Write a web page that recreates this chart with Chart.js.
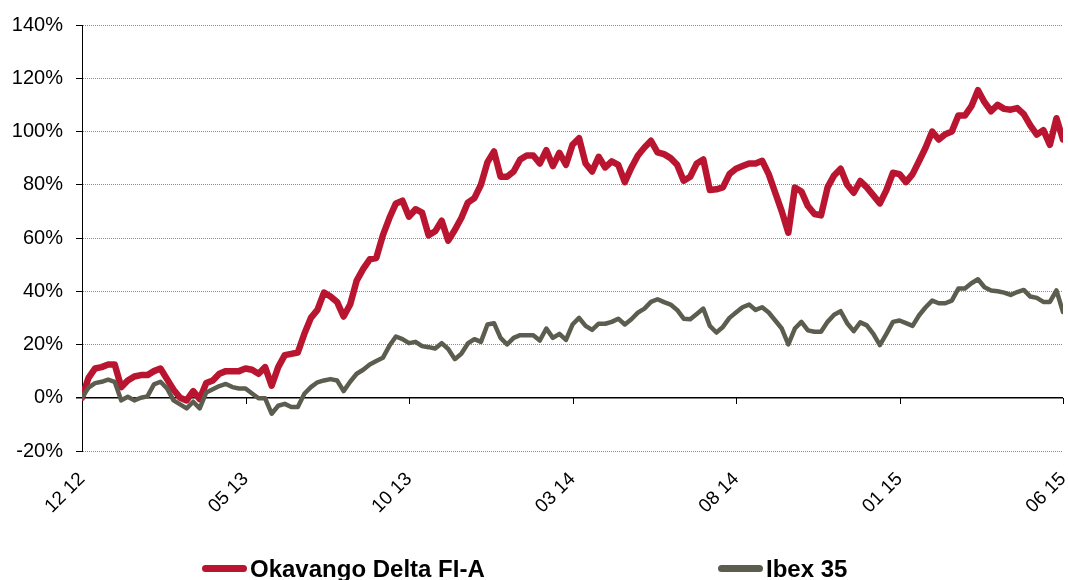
<!DOCTYPE html>
<html lang="es">
<head>
<meta charset="utf-8">
<title>Okavango Delta FI-A vs Ibex 35</title>
<script src="https://cdn.jsdelivr.net/npm/chart.js@4.4.1/dist/chart.umd.min.js"></script>
<style>
  html, body { margin: 0; padding: 0; background: #fff; overflow: hidden; }
  #wrap { position: relative; width: 1068px; height: 580px; }
  #legend .item {
    position: absolute; top: 557px; padding-left: 48px;
    font: bold 24px "Liberation Sans", Arial, sans-serif; line-height: 24px;
    color: #000; white-space: nowrap;
  }
  #legend .swatch { position: absolute; left: 0; top: 8px; width: 45px; height: 7px; border-radius: 3.5px; }
</style>
</head>
<body>
<div id="wrap">
  <canvas id="perfChart"></canvas>
  <div id="legend"></div>
</div>
<script>
// Un point tous les 0,2 mois, de 12/2012 à 06/2015
const step = 0.2;
const tickLabels = ['12 12', '05 13', '10 13', '03 14', '08 14', '01 15', '06 15'];
const seriesNames = ['Okavango Delta FI-A', 'Ibex 35'];
const seriesColors = ['#BA1530', '#5C5D4F'];

// Rentabilité cumulée (%)
const okavango = [
    0, 7.5, 11, 11.5, 12.5, 12.5, 4, 6.5, 8, 8.5,
    8.5, 10, 11, 7, 3, 0, -1, 2.5, -0.5, 5.5,
    6.5, 9, 10, 10, 10, 11, 10.5, 9, 11.5, 4.5,
    11.5, 16, 16.5, 17, 24, 30, 33, 39.5, 38, 36,
    30.5, 35, 44, 48.4, 52, 52.5, 61, 67.5, 73, 74,
    68, 70.8, 69.5, 61, 62.5, 66.5, 59, 63, 67.5, 73.3,
    75, 80, 88.5, 92.5, 83, 83, 85, 89.5, 91, 91,
    88, 93, 87, 92, 87.5, 95, 97.5, 88, 85, 90.5,
    86.5, 88.8, 87.5, 81, 86.4, 91, 94, 96.5, 92.2, 91.5,
    90, 87.5, 81.5, 83, 88, 89.5, 78, 78.3, 79, 84,
    86, 87, 88, 88, 89, 84, 77, 70, 62, 79,
    77.5, 72, 69, 68.5, 79, 83.5, 86, 80, 77, 81.4,
    79, 76, 73, 78, 84.5, 84, 81, 84, 88.9, 94,
    100, 97, 99, 100, 106, 106, 109.5, 115.5, 111, 107.6,
    110, 108.5, 108.2, 108.8, 106.5, 102.3, 98.8, 100.5, 95, 105,
    97
];
const ibex = [
    0, 3.8, 5.5, 6, 6.8, 6, -1, 0.4, -1, 0,
    0.5, 5, 6, 3.5, -1, -2.5, -4, -1.5, -4, 2,
    3.2, 4.4, 5.2, 4, 3.5, 3.5, 1.6, -0.2, -0.2, -6,
    -3, -2.3, -3.5, -3.5, 1.5, 4, 5.8, 6.5, 7, 6.5,
    2.5, 6, 9, 10.5, 12.5, 13.8, 15, 19.5, 23, 22,
    20.5, 21, 19.4, 19, 18.5, 20.5, 18.3, 14.5, 16.5, 20.4,
    22, 21, 27.5, 28, 22.5, 20, 22.5, 23.5, 23.5, 23.5,
    21.5, 26, 22.5, 24, 21.7, 27.5, 30, 27, 25.5, 27.8,
    27.8, 28.5, 29.7, 27.5, 29.5, 32, 33.5, 36, 37, 35.9,
    35, 33, 29.7, 29.5, 31.5, 33.5, 27, 24.5, 26.6, 30,
    32, 34, 35, 33, 34, 32, 29, 26, 20, 26,
    28.5, 25.3, 24.8, 24.8, 28.5, 31.2, 32.5, 28, 25, 28.3,
    27.2, 24, 19.8, 24, 28.5, 29, 28, 27, 31, 34,
    36.5, 35.5, 35.5, 36.5, 41, 41, 43, 44.5, 41.5, 40.3,
    40, 39.5, 38.6, 39.7, 40.5, 38, 37.5, 36, 36, 40.3,
    32.2
];

const font = "'Liberation Sans', Arial, sans-serif";
const toPoints = (values) => values.map((v, i) => ({ x: i * step, y: v }));

// Petites graduations de l'axe X posées sur la ligne du 0 %
const zeroTicks = {
    id: 'zeroTicks',
    beforeDatasetsDraw(chart) {
        const { ctx, scales: { x, y } } = chart;
        const y0 = Math.round(y.getPixelForValue(0));
        ctx.save();
        ctx.strokeStyle = '#000';
        ctx.lineWidth = 1;
        x.ticks.forEach((t) => {
            const px = Math.round(x.getPixelForValue(t.value)) + 0.5;
            ctx.beginPath();
            ctx.moveTo(px, y0);
            ctx.lineTo(px, y0 + 6);
            ctx.stroke();
        });
        ctx.restore();
    }
};

const ctx = document.getElementById('perfChart').getContext('2d');
new Chart(ctx, {
    type: 'line',
    data: {
        datasets: [{
            label: seriesNames[0],
            data: toPoints(okavango),
            borderColor: seriesColors[0],
            borderWidth: 6.5,
            order: 1
        }, {
            label: seriesNames[1],
            data: toPoints(ibex),
            borderColor: seriesColors[1],
            borderWidth: 4.5,
            order: 0
        }]
    },
    options: {
        responsive: true,
        maintainAspectRatio: false,
        animation: false,
        layout: { padding: { top: 23, right: 5, left: 0, bottom: 0 } },
        elements: { point: { radius: 0 }, line: { tension: 0, borderJoinStyle: 'round', borderCapStyle: 'round' } },
        plugins: { legend: { display: false }, tooltip: { enabled: false } },
        scales: {
            x: {
                type: 'linear',
                min: 0,
                max: 30,
                grid: { display: false },
                border: { display: false },
                ticks: {
                    stepSize: 5,
                    minRotation: 45,
                    maxRotation: 45,
                    padding: 9,
                    color: '#000',
                    font: { family: font, size: 19 },
                    callback: (v, i) => tickLabels[i]
                },
                afterFit: (scale) => {
                    scale.height = 129;
                    // les étiquettes inclinées ne débordent pas à droite
                    scale.paddingRight = 0;
                    scale.paddingLeft = 0;
                }
            },
            y: {
                min: -20,
                max: 140,
                grid: {
                    color: (c) => (c.tick && c.tick.value === 0 ? '#000' : '#8c8c8c'),
                    lineWidth: (c) => (c.tick && c.tick.value === 0 ? 1.5 : 1),
                    tickColor: '#000',
                    tickLength: 6
                },
                border: {
                    color: '#000',
                    width: 1,
                    dash: (c) => (c.tick && c.tick.value === 0 ? [] : [1, 1])
                },
                ticks: {
                    stepSize: 20,
                    padding: 13,
                    color: '#000',
                    font: { family: font, size: 20 },
                    callback: (v) => v + '%'
                },
                afterFit: (scale) => { scale.width = 82; }
            }
        }
    },
    plugins: [zeroTicks]
});

// Légende HTML en bas du graphique
const legend = document.getElementById('legend');
const legendLeft = [202, 718];
seriesNames.forEach((name, i) => {
    const item = document.createElement('div');
    item.className = 'item';
    item.style.left = legendLeft[i] + 'px';
    const swatch = document.createElement('span');
    swatch.className = 'swatch';
    swatch.style.background = seriesColors[i];
    item.appendChild(swatch);
    item.appendChild(document.createTextNode(name));
    legend.appendChild(item);
});
</script>
</body>
</html>
